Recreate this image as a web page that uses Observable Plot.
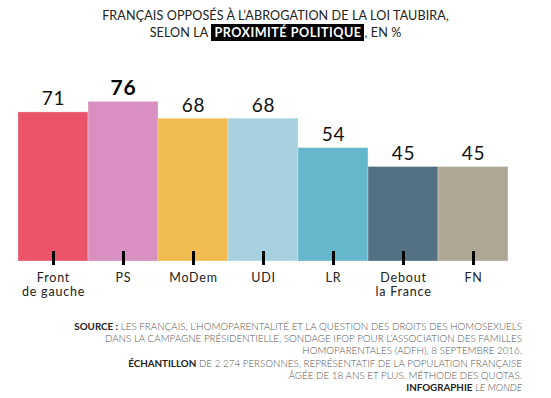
<!DOCTYPE html>
<html>
<head>
<meta charset="utf-8">
<script src="https://cdn.jsdelivr.net/npm/d3@7"></script>
<script src="https://cdn.jsdelivr.net/npm/@observablehq/plot@0.6"></script>
<style>
  html, body { margin: 0; padding: 0; background: #fff; }
  body { width: 551px; height: 398px; position: relative; overflow: hidden; font-family: Lato, "Noto Sans", sans-serif; }
  #title { position: absolute; top: 7px; left: 0; width: 551px; text-align: center; font-size: 12.6px; line-height: 17px; color: #222; letter-spacing: 0.1px; }
  #title .hl { background: #000; color: #fff; font-weight: bold; padding: 1px 3px; letter-spacing: 0.5px; }
  #chart { position: absolute; top: 50px; left: 0; }
  #caption { position: absolute; top: 320px; right: 29px; text-align: right; font-size: 9.8px; line-height: 12.2px; color: #555; font-weight: 300; white-space: nowrap; }
  #caption b { color: #222; font-weight: 700; }
  #chart text { letter-spacing: 0.8px; }
</style>
</head>
<body>
<div id="title">FRANÇAIS OPPOSÉS À L’ABROGATION DE LA LOI TAUBIRA,<br>SELON LA <span class="hl">PROXIMITÉ POLITIQUE</span>, EN %</div>
<div id="chart"></div>
<div id="caption"><b>SOURCE :</b> LES FRANÇAIS, L’HOMOPARENTALITÉ ET LA QUESTION DES DROITS DES HOMOSEXUELS<br>DANS LA CAMPAGNE PRÉSIDENTIELLE, SONDAGE IFOP POUR L’ASSOCIATION DES FAMILLES<br>HOMOPARENTALES (ADFH), 8 SEPTEMBRE 2016.<br><b>ÉCHANTILLON</b> DE 2 274 PERSONNES, REPRÉSENTATIF DE LA POPULATION FRANÇAISE<br>ÂGÉE DE 18 ANS ET PLUS. MÉTHODE DES QUOTAS.<br><b>INFOGRAPHIE</b> <i>LE MONDE</i></div>
<script>
const categories = ["Front de gauche", "PS", "MoDem", "UDI", "LR", "Debout la France", "FN"];
const tickLabels = ["Front\nde gauche", "PS", "MoDem", "UDI", "LR", "Debout\nla France", "FN"];
const values = [71, 76, 68, 68, 54, 45, 45];
const colors = ["#eb5369", "#d98fbf", "#f0bb50", "#a7d1de", "#65b7cb", "#547083", "#afa796"];
const highlighted = ["PS"];

const data = categories.map((c, i) => ({party: c, value: values[i]}));
const labelOf = new Map(categories.map((c, i) => [c, tickLabels[i]]));

const chart = Plot.plot({
  width: 551,
  height: 250,
  marginTop: 1,
  marginBottom: 39,
  marginLeft: 16,
  marginRight: 41,
  style: {fontFamily: "Lato, 'Noto Sans', sans-serif", color: "#111", background: "transparent"},
  x: {domain: categories, padding: 0, label: null},
  y: {domain: [0, 100], axis: null},
  color: {domain: categories, range: colors},
  marks: [
    Plot.barY(data, {x: "party", y: "value", fill: "party", stroke: "white", strokeOpacity: 0.3, strokeWidth: 1, inset: 0}),
    Plot.text(data.filter(d => !highlighted.includes(d.party)), {x: "party", y: "value", text: d => String(d.value), dy: -7, lineAnchor: "bottom", fontSize: 19, fill: "#111"}),
    Plot.text(data.filter(d => highlighted.includes(d.party)), {x: "party", y: "value", text: d => String(d.value), dy: -7, lineAnchor: "bottom", fontSize: 21, fontWeight: "bold", fill: "#000"}),
    Plot.axisX({tickSize: 14, tickFormat: () => "", stroke: "#000", strokeWidth: 3, strokeOpacity: 1, dy: -10, label: null}),
    Plot.axisX({tickSize: 0, tickPadding: 11, tickFormat: d => labelOf.get(d), fontSize: 12.5, lineHeight: 1.1, fill: "#222", label: null})
  ]
});
document.getElementById("chart").append(chart);
</script>
</body>
</html>
